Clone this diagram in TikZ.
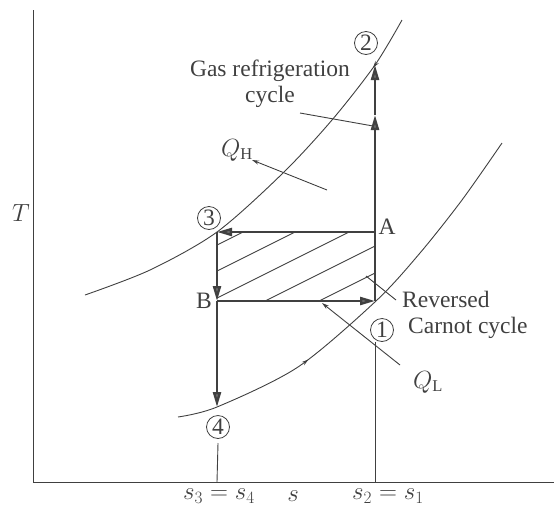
\documentclass[tikz,border=0pt]{standalone}
\usepackage{fontspec}
\setmainfont{Liberation Serif}
\usetikzlibrary{arrows.meta}
\usetikzlibrary{decorations.markings}

\definecolor{ink}{gray}{0.25}
\tikzset{
  process/.style={draw=ink, line width=2.4pt, -{Triangle[length=15pt,width=8pt,fill=gray!90!black]}},
  plain/.style={draw=ink, line width=2.4pt},
  curve/.style={draw=ink, line width=0.9pt},
  guide/.style={draw=ink, line width=0.9pt},
  hatchline/.style={draw=ink, line width=0.9pt},
  pointer/.style={draw=ink, line width=0.9pt},
  state/.style={circle, draw=ink, line width=0.8pt, inner sep=0pt, minimum size=23pt, text=ink},
  label/.style={text=ink, inner sep=1pt}
}

\begin{document}
\begin{tikzpicture}[x=1pt,y=-1pt,font=\fontsize{23.5}{26}\selectfont]
  \useasboundingbox (0,0) rectangle (554,512);
  % states
  \coordinate (p1) at (375,301);
  \coordinate (p2) at (375,65);
  \coordinate (p3) at (217,232);
  \coordinate (p4) at (217,407);
  \coordinate (pA) at (375,232);
  \coordinate (pB) at (217,301);
  \coordinate (pm) at (375,115);
  % axes
  \coordinate (ytop) at (33,10);
  \coordinate (o) at (33,482);
  \coordinate (xend) at (554,482);
  \draw[guide] (ytop) -- (o) -- (xend);
  \node[label] (T) at (21,213) {$T$};
  \node[label] (sx) at (293,496) {$s$};
  \node[label] (s34) at (219,496) {$s_3 = s_4$};
  \node[label] (s21) at (388,496) {$s_2 = s_1$};

  % constant pressure lines
  \draw[curve, postaction={decorate}, decoration={markings,
    mark=at position 0.13 with {\arrow{Stealth[length=7pt,width=4pt]}}}]
    plot[smooth] coordinates {(402,20) (375,65) (332,120) (283,173) (217,232) (150,270) (85,295)};
  \draw[curve, postaction={decorate}, decoration={markings,
    mark=at position 0.33 with {\arrow{Stealth[length=7pt,width=4pt]}}}]
    plot[smooth] coordinates {(178,417) (217,407) (298,367) (376,301) (420,253) (462,200) (502,143)};

  % hatched area
  \begin{scope}
    \clip (p3) rectangle (p1);
    \foreach \y in {245,271,298,325,352}
      \draw[hatchline] (217,\y) -- ++(220,-110);
  \end{scope}

  % cycle
  \draw[process] (pA) -- (p3);
  \draw[process] (p3) -- (pB);
  \draw[process] (pB) -- (p1);
  \draw[process] (pB) -- (p4);
  \draw[plain] (p1) -- (pA);
  \draw[process] (pA) -- (pm);
  \draw[process] (pm) -- (p2);

  % state labels
  \node[state] (n1) at (382,330) {1};
  \node[state] (n2) at (366,43) {2};
  \node[state] (n3) at (209,218) {3};
  \node[state] (n4) at (218,427) {4};
  \node[label] (nA) at (387,227) {A};
  \node[label] (nB) at (204,301) {B};

  % guide lines to the s axis
  \draw[guide] (n1.south -| p1) -- (p1 |- o);
  \draw[guide] (n4) ++(0,16) -- (p4 |- o);

  % heat
  \node[label] (qh) at (237,150) {$Q_{\mathrm{H}}$};
  \coordinate (qhs) at (327,190);
  \coordinate (qht) at (252,160);
  \draw[pointer, -{Stealth[length=7pt,width=4pt]}] (qhs) -- (qht);
  \node[label] (ql) at (428,382) {$Q_{\mathrm{L}}$};
  \coordinate (qls) at (400,365);
  \coordinate (qlt) at (322,303);
  \draw[pointer, -{Stealth[length=7pt,width=4pt]}] (qls) -- (qlt);

  % cycle names
  \node[label, align=center] (gas) at (270,84) {Gas refrigeration\\cycle};
  \coordinate (gasp) at (300,113);
  \coordinate (gast) at (373,126);
  \draw[pointer] (gasp) -- (gast);
  \node[label, align=left, anchor=north west] (carnot) at (401,290) {Reversed\\\hspace{6pt}Carnot cycle};
  \coordinate (carp) at (366,276);
  \coordinate (cart) at (396,300);
  \draw[pointer] (carp) -- (cart);
\end{tikzpicture}
\end{document}
